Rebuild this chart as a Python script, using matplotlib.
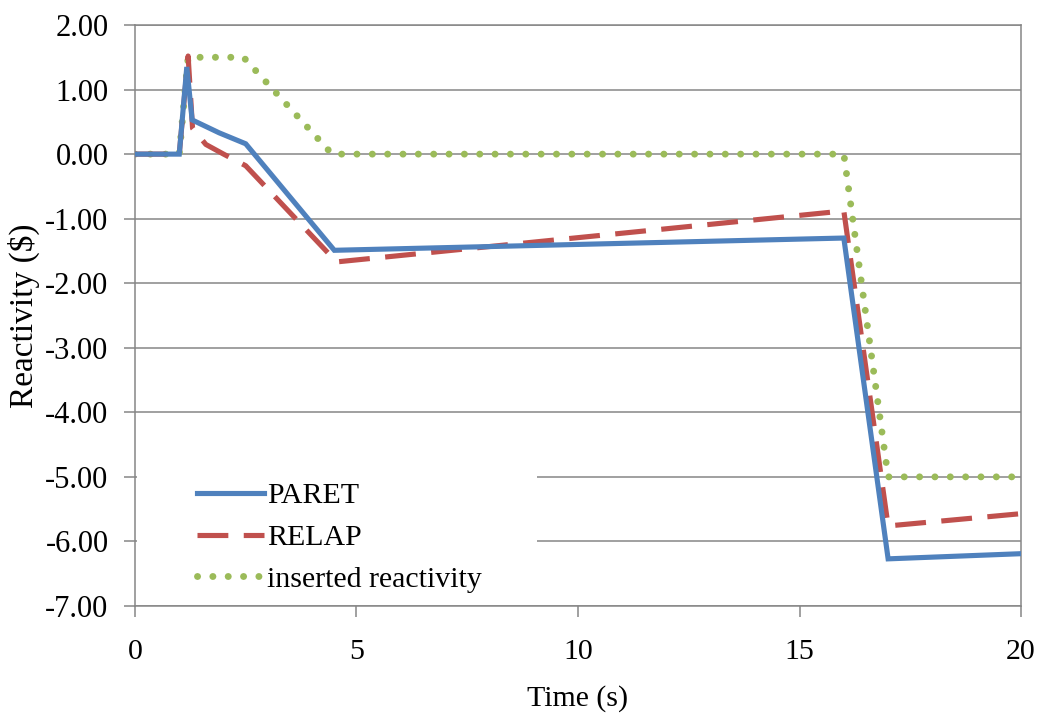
import matplotlib
matplotlib.use("Agg")
import matplotlib.pyplot as plt
import matplotlib as mpl
from matplotlib.patches import Rectangle

mpl.rcParams.update({
    "font.family":        "Liberation Serif",
    "font.size":          21.5,
    "axes.unicode_minus": False,
})

# ---- data ----
paret_t = [0.0, 1.0, 1.17, 1.29, 1.9, 2.5, 4.5, 16.0, 17.0, 20.0]
paret_r = [0.0, 0.0, 1.35, 0.53, 0.33, 0.16, -1.49, -1.30, -6.27, -6.19]

relap_t = [0.0, 1.0, 1.2, 1.3, 1.6, 2.0, 2.5, 4.55, 16.0, 17.0, 20.0]
relap_r = [0.0, 0.0, 1.52, 0.40, 0.15, 0.0, -0.18, -1.67, -0.88, -5.76, -5.57]

insert_t = [0.0, 1.0, 1.2, 2.45, 4.45, 16.0, 17.0, 20.0]
insert_r = [0.0, 0.0, 1.5, 1.5, 0.0, 0.0, -5.0, -5.0]

x_ticks = [0, 5, 10, 15, 20]
y_ticks = [2, 1, 0, -1, -2, -3, -4, -5, -6, -7]

grey = "#868686"

fig = plt.figure(figsize=(10.47, 7.19), dpi=100)
ax = fig.add_axes([0.1289, 0.1572, 0.8463, 0.8080])

ax.plot(paret_t, paret_r, color="#4F81BD", linewidth=3.7,
        solid_joinstyle="miter", label="PARET", zorder=4)
ax.plot(relap_t, relap_r, color="#C0504D", linewidth=3.7,
        linestyle=(0, (6, 3)), dash_capstyle="butt", label="RELAP", zorder=3)
ax.plot(insert_t, insert_r, color="#9BBB59", linewidth=5,
        linestyle=(0, (0.01, 2.2)), dash_capstyle="round",
        label="inserted reactivity", zorder=2)

ax.set_xlim(0, 20)
ax.set_ylim(-7, 2)
ax.set_xticks(x_ticks)
ax.set_yticks(y_ticks)
ax.set_yticklabels(["%.2f" % v for v in y_ticks])

ax.grid(True, axis="y", color=grey, linewidth=1.1)
ax.set_axisbelow(True)
for side in ["left", "right", "top", "bottom"]:
    ax.spines[side].set_color(grey)
    ax.spines[side].set_linewidth(1.1)
ax.tick_params(axis="both", direction="out", length=8, width=1.1, color=grey)
ax.tick_params(axis="x", pad=16, labelsize=21.5)
ax.tick_params(axis="y", pad=11, labelsize=22)

ax.set_xlabel("Time (s)", fontsize=21.5, labelpad=14)
ax.set_ylabel("Reactivity ($)", fontsize=24, labelpad=4)

# white area behind the legend hides the gridlines there
ax.add_patch(Rectangle((0.002, 0.004), 0.452, 0.264, transform=ax.transAxes,
                       facecolor="white", edgecolor="none", zorder=1))
ax.legend(loc="upper left", bbox_to_anchor=(0.0565, 0.233), frameon=False,
          handlelength=2.24, handletextpad=0.1, labelspacing=0.49,
          borderaxespad=0, fontsize=21.5)

fig.savefig("out.png", dpi=100, facecolor="white")
